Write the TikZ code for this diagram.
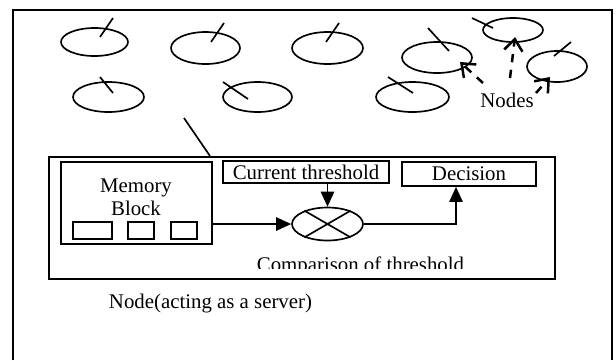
\documentclass[tikz,border=0pt]{standalone}
\usepackage{fontspec}
\setmainfont{Liberation Serif}
\usetikzlibrary{arrows.meta,shapes.geometric}

\begin{document}
\begin{tikzpicture}[x=0.6pt, y=-0.6pt, line width=1pt, font=\fontsize{12.5}{14}\selectfont, peer/.style = {shape=ellipse, draw, inner sep=0pt}, box/.style = {shape=rectangle, draw, align=center, inner sep=0pt}, arr/.style = {-{Triangle[length=9pt,width=8pt]}}, dsh/.style = {line width=1.5pt, dash pattern=on 5pt off 4.5pt, -{Straight Barb[length=7pt,width=11pt]}}]
	\useasboundingbox (0,0) rectangle (616,360);
	% frame
	\draw[line width=1.4pt] (13,360) -- (13,10) -- (612,10) -- (612,360);
	% nodes of the network
	\node[peer, minimum width=40.2pt, minimum height=16.8pt] (e1) at (94.5,42) {};
	\node[peer, minimum width=41.4pt, minimum height=19.2pt] (e2) at (205.5,48) {};
	\node[peer, minimum width=42.6pt, minimum height=18pt] (e3) at (108.5,97) {};
	\node[peer, minimum width=41.4pt, minimum height=18pt] (e4) at (257.5,97) {};
	\node[peer, minimum width=42.6pt, minimum height=19.2pt] (e5) at (327.5,48) {};
	\node[peer, minimum width=42pt, minimum height=18.6pt] (e6) at (437,57.5) {};
	\node[peer, minimum width=43.8pt, minimum height=18pt] (e7) at (412.5,97) {};
	\node[peer, minimum width=36pt, minimum height=14.4pt] (e8) at (513,30) {};
	\node[peer, minimum width=36pt, minimum height=18.6pt] (e9) at (557,66.5) {};
	\draw (e1.center) ++(5.5,-5) -- ++(13,-19);
	\draw (e2.center) ++(5.5,-6) -- ++(13,-19);
	\draw (e3.center) ++(-8.5,-20) -- ++(13,16);
	\draw (e4.center) ++(-34.5,-15) -- ++(25,17);
	\draw (e5.center) ++(-1.5,-6) -- ++(13,-19);
	\draw (e6.center) ++(-9,-29.5) -- ++(21,23);
	\draw (e7.center) ++(-24.5,-20) -- ++(25,16);
	\draw (e8.center) ++(-41,-12) -- ++(21,10);
	\draw (e9.center) ++(-3,-10.5) -- ++(17,-14);
	\node (nl) at (507,100) {Nodes};
	\draw[dsh] ([shift={(-24,-17)}]nl.center) -- ([shift={(23,4.5)}]e6.center);
	\draw[dsh] ([shift={(3,-22)}]nl.center) -- ([shift={(2,7)}]e8.center);
	\draw[dsh] ([shift={(29,-7)}]nl.center) -- ([shift={(-7,10.5)}]e9.center);
	% server
	\node[box, line width=1.2pt, minimum width=303.6pt, minimum height=73.2pt] (srv) at (302,218) {};
	\coordinate (lnk) at (184,118);
	\draw (lnk) -- ([xshift=97.2pt]srv.north west);
	\node[box, minimum width=90.6pt, minimum height=49.2pt] (mem) at (136.5,203) {};
	\node[align=center] (memtxt) at (136,197) {Memory\\Block};
	\node[box, minimum width=23.4pt, minimum height=10.2pt] (s1) at (92.5,230.5) {};
	\node[box, minimum width=15.6pt, minimum height=10.2pt] (s2) at (141,230.5) {};
	\node[box, minimum width=15.6pt, minimum height=10.2pt] (s3) at (184,230.5) {};
	\node[box, minimum width=99.6pt, minimum height=13.2pt] (cur) at (306,172) {Current threshold};
	\node[box, minimum width=80.4pt, minimum height=14.4pt] (dec) at (469,174) {Decision};
	\node[peer, minimum width=42.6pt, minimum height=19.8pt] (cmp) at (327.5,224) {};
	\draw (cmp.150) -- (cmp.-30) (cmp.30) -- (cmp.-150);
	\draw[arr] (mem.east |- cmp.west) -- (cmp.west);
	\draw[arr] (cur.south -| cmp.north) -- (cmp.north);
	\draw[arr] (cmp.east) -| ([xshift=-7.8pt]dec.south);
	\begin{scope}
		\clip (49,240) rectangle (555,268.5);
		\node[anchor=base] (cmptxt) at (360.5,271) {Comparison of threshold};
	\end{scope}
	\node (srvtxt) at (210.5,304) {Node(acting as a server)};
\end{tikzpicture}
\end{document}
